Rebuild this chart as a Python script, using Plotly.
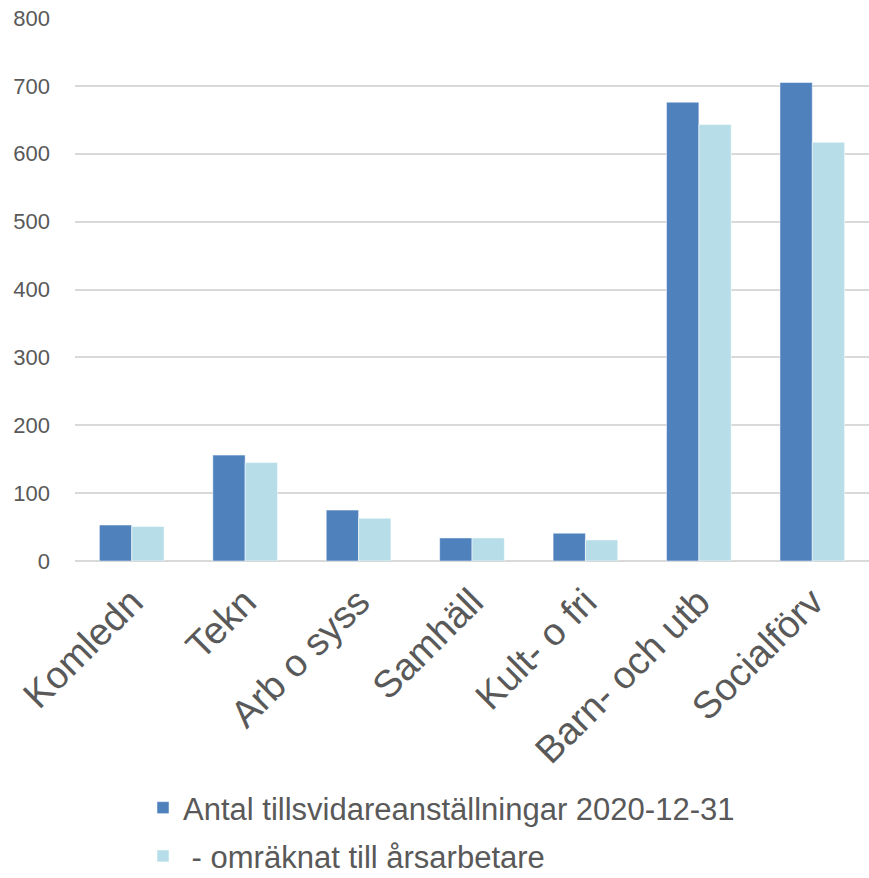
import plotly.graph_objects as go

categories = ["Komledn", "Tekn", "Arb o syss", "Samhäll", "Kult- o fri", "Barn- och utb", "Socialförv"]
antal = [53, 156, 75, 34, 41, 676, 705]
arsarbetare = [51, 145, 63, 34, 31, 643, 617]
series_names = ["Antal tillsvidareanställningar 2020-12-31", " - omräknat till årsarbetare"]
y_ticks = [0, 100, 200, 300, 400, 500, 600, 700, 800]

fig = go.Figure()
fig.add_trace(go.Bar(x=categories, y=antal, name=series_names[0], legendgroup="a",
                     marker=dict(color="#4F81BD", line=dict(color="white", width=0.5))))
fig.add_trace(go.Bar(x=categories, y=arsarbetare, name=series_names[1], legendgroup="b",
                     marker=dict(color="#B7DEE8", line=dict(color="white", width=0.5))))

fig.update_layout(
    width=869, height=878,
    margin=dict(l=75, r=0, t=18, b=317, autoexpand=False),
    paper_bgcolor="white", plot_bgcolor="white",
    barmode="group", bargap=0.43, bargroupgap=0,
    font=dict(family="Liberation Sans, Arial, sans-serif", color="#595959"),
    showlegend=True,
    legend=dict(orientation="v", xref="container", x=143 / 869, xanchor="left",
                yref="container", y=1 - 781 / 878, yanchor="top",
                font=dict(size=31, color="#595959"), tracegroupgap=5,
                bgcolor="rgba(0,0,0,0)"),
    xaxis=dict(tickangle=-45, tickfont=dict(size=38, color="#595959"),
               showline=False, showgrid=False, ticks="", ticklabelstandoff=10,
               automargin=False),
    yaxis=dict(range=[0, 800], tickvals=y_ticks, tickfont=dict(size=22, color="#595959"),
               showgrid=True, gridcolor="#D9D9D9", gridwidth=1.5,
               zeroline=True, zerolinecolor="#D9D9D9", zerolinewidth=1.5,
               ticks="", ticklabelstandoff=24, automargin=False),
)

fig.write_html("out.html", config={"displayModeBar": False},
               post_script="document.body.style.margin='0';document.body.style.overflow='hidden';")
